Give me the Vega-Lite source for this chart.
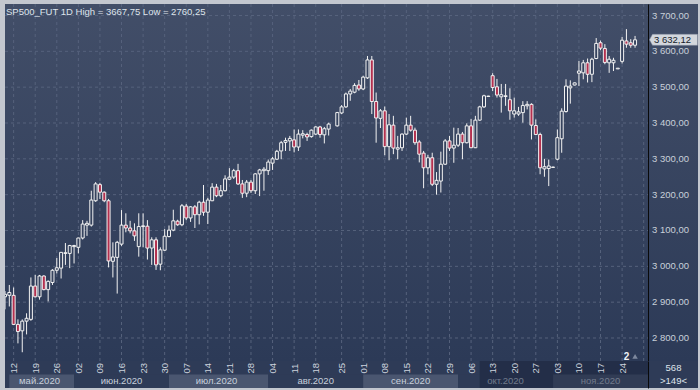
{
"$schema": "https://vega.github.io/schema/vega-lite/v6.json",
"padding": {"left": 4, "top": 3, "right": 3, "bottom": 3},
"background": "#c3c7cf",
"bounds": "flush",
"spacing": 0,
"config": {
  "view": {"stroke": null},
  "locale": {"number": {"decimal": ",", "thousands": " ", "grouping": [3], "currency": ["", ""]}},
  "text": {"font": "Liberation Sans"},
  "axis": {"labelFont": "Liberation Sans"}
},
"datasets": {
  "bars": [
{"d":"2020-05-08","o":2915,"h":2931,"l":2880,"c":2922},
{"d":"2020-05-11","o":2919,"h":2948,"l":2888,"c":2927},
{"d":"2020-05-12","o":2919,"h":2941,"l":2836,"c":2838},
{"d":"2020-05-13","o":2838,"h":2852,"l":2785,"c":2818},
{"d":"2020-05-14","o":2820,"h":2852,"l":2760.25,"c":2847},
{"d":"2020-05-15","o":2847,"h":2869,"l":2810,"c":2855},
{"d":"2020-05-18","o":2852,"h":2969,"l":2848,"c":2945},
{"d":"2020-05-19","o":2945,"h":2976,"l":2913,"c":2915},
{"d":"2020-05-20","o":2915,"h":2976,"l":2907,"c":2973},
{"d":"2020-05-21","o":2973,"h":2975,"l":2933,"c":2935},
{"d":"2020-05-22","o":2935,"h":2961,"l":2902,"c":2958},
{"d":"2020-05-25","o":2955,"h":2992,"l":2948,"c":2989},
{"d":"2020-05-26","o":2989,"h":3023,"l":2980,"c":2996},
{"d":"2020-05-27","o":2995,"h":3040,"l":2966,"c":3039},
{"d":"2020-05-28","o":3036,"h":3065,"l":3004,"c":3038},
{"d":"2020-05-29","o":3036,"h":3060,"l":2995,"c":3058},
{"d":"2020-06-01","o":3055,"h":3060,"l":3008,"c":3058},
{"d":"2020-06-02","o":3053,"h":3080,"l":3036,"c":3079},
{"d":"2020-06-03","o":3079,"h":3129,"l":3075,"c":3118},
{"d":"2020-06-04","o":3115,"h":3127,"l":3085,"c":3120},
{"d":"2020-06-05","o":3115,"h":3211,"l":3111,"c":3185},
{"d":"2020-06-08","o":3183,"h":3235,"l":3180,"c":3230},
{"d":"2020-06-09","o":3228,"h":3233,"l":3188,"c":3207},
{"d":"2020-06-10","o":3207,"h":3209,"l":3179,"c":3183},
{"d":"2020-06-11","o":3183,"h":3188,"l":2997,"c":3015},
{"d":"2020-06-12","o":3014,"h":3067,"l":2969,"c":3026},
{"d":"2020-06-15","o":3025,"h":3071,"l":2924,"c":3067},
{"d":"2020-06-16","o":3062,"h":3157,"l":3057,"c":3115},
{"d":"2020-06-17","o":3115,"h":3148,"l":3095,"c":3107},
{"d":"2020-06-18","o":3107,"h":3127,"l":3092,"c":3099},
{"d":"2020-06-19","o":3099,"h":3120,"l":3071,"c":3085},
{"d":"2020-06-22","o":3055,"h":3148,"l":3027,"c":3111},
{"d":"2020-06-23","o":3111,"h":3148,"l":3053,"c":3113},
{"d":"2020-06-24","o":3112,"h":3129,"l":3019,"c":3051},
{"d":"2020-06-25","o":3051,"h":3081,"l":3004,"c":3074},
{"d":"2020-06-26","o":3074,"h":3081,"l":2990,"c":3004},
{"d":"2020-06-29","o":3006,"h":3053,"l":2989,"c":3046},
{"d":"2020-06-30","o":3045,"h":3104,"l":3043,"c":3084},
{"d":"2020-07-01","o":3083,"h":3114,"l":3081,"c":3101},
{"d":"2020-07-02","o":3101,"h":3158,"l":3098,"c":3127},
{"d":"2020-07-03","o":3126,"h":3130,"l":3113,"c":3116},
{"d":"2020-07-06","o":3116,"h":3174,"l":3112,"c":3169},
{"d":"2020-07-07","o":3168,"h":3174,"l":3129,"c":3135},
{"d":"2020-07-08","o":3135,"h":3168,"l":3124,"c":3166},
{"d":"2020-07-09","o":3166,"h":3171,"l":3107,"c":3144},
{"d":"2020-07-10","o":3144,"h":3183,"l":3117,"c":3179},
{"d":"2020-07-13","o":3179,"h":3227,"l":3141,"c":3151},
{"d":"2020-07-14","o":3151,"h":3191,"l":3118,"c":3185},
{"d":"2020-07-15","o":3183,"h":3232,"l":3182,"c":3221},
{"d":"2020-07-16","o":3221,"h":3230,"l":3193,"c":3197},
{"d":"2020-07-17","o":3197,"h":3227,"l":3193,"c":3211},
{"d":"2020-07-20","o":3211,"h":3254,"l":3209,"c":3244},
{"d":"2020-07-21","o":3243,"h":3274,"l":3241,"c":3249},
{"d":"2020-07-22","o":3249,"h":3272,"l":3244,"c":3267},
{"d":"2020-07-23","o":3267,"h":3286,"l":3227,"c":3230},
{"d":"2020-07-24","o":3230,"h":3241,"l":3191,"c":3204},
{"d":"2020-07-27","o":3204,"h":3241,"l":3193,"c":3235},
{"d":"2020-07-28","o":3235,"h":3241,"l":3205,"c":3211},
{"d":"2020-07-29","o":3211,"h":3260,"l":3202,"c":3258},
{"d":"2020-07-30","o":3258,"h":3272,"l":3196,"c":3269},
{"d":"2020-07-31","o":3267,"h":3277,"l":3211,"c":3271},
{"d":"2020-08-03","o":3267,"h":3298,"l":3255,"c":3291},
{"d":"2020-08-04","o":3288,"h":3305,"l":3269,"c":3300},
{"d":"2020-08-05","o":3299,"h":3325,"l":3297,"c":3321},
{"d":"2020-08-06","o":3322,"h":3350,"l":3299,"c":3345},
{"d":"2020-08-07","o":3346,"h":3359,"l":3322,"c":3351},
{"d":"2020-08-10","o":3350,"h":3364,"l":3322,"c":3357},
{"d":"2020-08-11","o":3353,"h":3382,"l":3318,"c":3333},
{"d":"2020-08-12","o":3333,"h":3382,"l":3322,"c":3369},
{"d":"2020-08-13","o":3366,"h":3380,"l":3357,"c":3370},
{"d":"2020-08-14","o":3368,"h":3373,"l":3350,"c":3361},
{"d":"2020-08-17","o":3362,"h":3382,"l":3359,"c":3380},
{"d":"2020-08-18","o":3369,"h":3391,"l":3366,"c":3389},
{"d":"2020-08-19","o":3389,"h":3392,"l":3359,"c":3368},
{"d":"2020-08-20","o":3367,"h":3389,"l":3343,"c":3384},
{"d":"2020-08-21","o":3383,"h":3401,"l":3365,"c":3397},
{"d":"2020-08-24","o":3392,"h":3431,"l":3390,"c":3429},
{"d":"2020-08-25","o":3428,"h":3450,"l":3425,"c":3445},
{"d":"2020-08-26","o":3445,"h":3485,"l":3442,"c":3481},
{"d":"2020-08-27","o":3481,"h":3495,"l":3462,"c":3489},
{"d":"2020-08-28","o":3486,"h":3511,"l":3483,"c":3505},
{"d":"2020-08-31","o":3506,"h":3520,"l":3490,"c":3495},
{"d":"2020-09-01","o":3495,"h":3532,"l":3492,"c":3528},
{"d":"2020-09-02","o":3526,"h":3587,"l":3523,"c":3576},
{"d":"2020-09-03","o":3576,"h":3587,"l":3425,"c":3460},
{"d":"2020-09-04","o":3460,"h":3485,"l":3345,"c":3414},
{"d":"2020-09-07","o":3413,"h":3439,"l":3386,"c":3434},
{"d":"2020-09-08","o":3434,"h":3446,"l":3310,"c":3334},
{"d":"2020-09-09","o":3334,"h":3425,"l":3296,"c":3395},
{"d":"2020-09-10","o":3394,"h":3420,"l":3313,"c":3330},
{"d":"2020-09-11","o":3327,"h":3364,"l":3299,"c":3331},
{"d":"2020-09-14","o":3331,"h":3371,"l":3322,"c":3369},
{"d":"2020-09-15","o":3369,"h":3415,"l":3366,"c":3394},
{"d":"2020-09-16","o":3394,"h":3420,"l":3376,"c":3380},
{"d":"2020-09-17","o":3380,"h":3387,"l":3339,"c":3345},
{"d":"2020-09-18","o":3347,"h":3352,"l":3290,"c":3313},
{"d":"2020-09-21","o":3316,"h":3322,"l":3218,"c":3275},
{"d":"2020-09-22","o":3275,"h":3311,"l":3257,"c":3303},
{"d":"2020-09-23","o":3303,"h":3317,"l":3224,"c":3229},
{"d":"2020-09-24","o":3229,"h":3263,"l":3200,"c":3240},
{"d":"2020-09-25","o":3238,"h":3320,"l":3206,"c":3285},
{"d":"2020-09-28","o":3285,"h":3355,"l":3283,"c":3350},
{"d":"2020-09-29","o":3350,"h":3364,"l":3322,"c":3330},
{"d":"2020-09-30","o":3330,"h":3387,"l":3289,"c":3338},
{"d":"2020-10-01","o":3338,"h":3386,"l":3333,"c":3369},
{"d":"2020-10-02","o":3369,"h":3375,"l":3299,"c":3345},
{"d":"2020-10-05","o":3345,"h":3399,"l":3343,"c":3392},
{"d":"2020-10-06","o":3392,"h":3411,"l":3330,"c":3331},
{"d":"2020-10-07","o":3331,"h":3420,"l":3330,"c":3408},
{"d":"2020-10-08","o":3408,"h":3448,"l":3406,"c":3445},
{"d":"2020-10-09","o":3445,"h":3479,"l":3442,"c":3476},
{"d":"2020-10-12","o":3474,"h":3476,"l":3473,"c":3475},
{"d":"2020-10-13","o":3532,"h":3539,"l":3489,"c":3499},
{"d":"2020-10-14","o":3501,"h":3523,"l":3471,"c":3478},
{"d":"2020-10-15","o":3473,"h":3509,"l":3429,"c":3479},
{"d":"2020-10-16","o":3474,"h":3509,"l":3448,"c":3476},
{"d":"2020-10-19","o":3465,"h":3497,"l":3409,"c":3434},
{"d":"2020-10-20","o":3425,"h":3471,"l":3415,"c":3434},
{"d":"2020-10-21","o":3425,"h":3445,"l":3420,"c":3431},
{"d":"2020-10-22","o":3429,"h":3461,"l":3401,"c":3449},
{"d":"2020-10-23","o":3448,"h":3461,"l":3438,"c":3452},
{"d":"2020-10-26","o":3452,"h":3455,"l":3354,"c":3394},
{"d":"2020-10-27","o":3393,"h":3410,"l":3366,"c":3368},
{"d":"2020-10-28","o":3368,"h":3373,"l":3257,"c":3275},
{"d":"2020-10-29","o":3272,"h":3300,"l":3250,"c":3278},
{"d":"2020-10-30","o":3273,"h":3298,"l":3224,"c":3280},
{"d":"2020-11-02","o":3276,"h":3278,"l":3275,"c":3277},
{"d":"2020-11-03","o":3299,"h":3382,"l":3296,"c":3359},
{"d":"2020-11-04","o":3356,"h":3441,"l":3317,"c":3433},
{"d":"2020-11-05","o":3432,"h":3522,"l":3429,"c":3503},
{"d":"2020-11-06","o":3498,"h":3519,"l":3454,"c":3503},
{"d":"2020-11-09","o":3506,"h":3513,"l":3505,"c":3512},
{"d":"2020-11-10","o":3539,"h":3573,"l":3503,"c":3545},
{"d":"2020-11-11","o":3540,"h":3576,"l":3522,"c":3568},
{"d":"2020-11-12","o":3568,"h":3580,"l":3513,"c":3536},
{"d":"2020-11-13","o":3536,"h":3582,"l":3514,"c":3578},
{"d":"2020-11-16","o":3580,"h":3637,"l":3578,"c":3622},
{"d":"2020-11-17","o":3624,"h":3630,"l":3603,"c":3609},
{"d":"2020-11-18","o":3608,"h":3620,"l":3564,"c":3569},
{"d":"2020-11-19","o":3568,"h":3587,"l":3540,"c":3578},
{"d":"2020-11-20","o":3568,"h":3582,"l":3545,"c":3575},
{"d":"2020-11-23","o":3551,"h":3553,"l":3551,"c":3553},
{"d":"2020-11-24","o":3572,"h":3640,"l":3566,"c":3631},
{"d":"2020-11-25","o":3629,"h":3662,"l":3610,"c":3620},
{"d":"2020-11-26","o":3624,"h":3634,"l":3610,"c":3617},
{"d":"2020-11-27","o":3617,"h":3643,"l":3610,"c":3632.12}
  ],
  "weeks": [
{"t":"2020-05-12"},{"t":"2020-05-19"},{"t":"2020-05-26"},{"t":"2020-06-02"},{"t":"2020-06-09"},{"t":"2020-06-16"},{"t":"2020-06-23"},{"t":"2020-06-30"},{"t":"2020-07-07"},{"t":"2020-07-14"},{"t":"2020-07-21"},{"t":"2020-07-28"},{"t":"2020-08-04"},{"t":"2020-08-11"},{"t":"2020-08-18"},{"t":"2020-08-25"},{"t":"2020-09-01"},{"t":"2020-09-08"},{"t":"2020-09-15"},{"t":"2020-09-22"},{"t":"2020-09-29"},{"t":"2020-10-06"},{"t":"2020-10-13"},{"t":"2020-10-20"},{"t":"2020-10-27"},{"t":"2020-11-03"},{"t":"2020-11-10"},{"t":"2020-11-17"},{"t":"2020-11-24"},{"t":"2020-12-01"}
  ],
  "levels": [{"lv":2800},{"lv":2900},{"lv":3000},{"lv":3100},{"lv":3200},{"lv":3300},{"lv":3400},{"lv":3500},{"lv":3600},{"lv":3700}],
  "months": [
{"m":"май.2020","s":"2020-05-11","e":"2020-06-01","mid":"2020-05-20"},
{"m":"июн.2020","s":"2020-06-01","e":"2020-07-01","mid":"2020-06-16"},
{"m":"июл.2020","s":"2020-07-01","e":"2020-08-03","mid":"2020-07-16"},
{"m":"авг.2020","s":"2020-08-03","e":"2020-09-01","mid":"2020-08-18"},
{"m":"сен.2020","s":"2020-09-01","e":"2020-10-01","mid":"2020-09-16"},
{"m":"окт.2020","s":"2020-10-01","e":"2020-11-02","mid":"2020-10-16"},
{"m":"ноя.2020","s":"2020-11-02","e":"2020-12-02","mid":"2020-11-17"}
  ]
},
"vconcat": [
{
  "width": 693, "height": 357,
  "layer": [
    {"data": {"values": [{}]}, "mark": {"type": "rect", "color": {"gradient": "linear", "x1": 0, "y1": 0, "x2": 0, "y2": 1, "stops": [{"offset": 0, "color": "#424e68"}, {"offset": 1, "color": "#2c3a57"}]}}, "encoding": {}},
    {"data": {"name": "weeks"}, "mark": {"type": "rule", "color": "#56627c", "strokeDash": [3, 3], "strokeWidth": 1},
     "encoding": {"x": {"field": "t", "type": "ordinal"}}},
    {"data": {"name": "levels"}, "mark": {"type": "rule", "color": "#56627c", "strokeDash": [3, 3], "strokeWidth": 1},
     "encoding": {"y": {"field": "lv", "type": "quantitative"}, "x": {"datum": "2020-05-08", "type": "ordinal"}, "x2": {"datum": "2020-12-02"}}},
    {"data": {"name": "levels"}, "mark": {"type": "text", "align": "left", "baseline": "middle", "dx": 4, "fontSize": 9.5, "color": "#c9d0da"},
     "encoding": {"y": {"field": "lv", "type": "quantitative"}, "x": {"datum": "2020-12-02", "type": "ordinal"}, "text": {"field": "lv", "type": "quantitative", "format": ",.2f"}}},
    {"data": {"name": "bars"}, "mark": {"type": "rule", "color": "#f2f2f2", "strokeWidth": 1, "clip": true},
     "encoding": {
       "x": {"field": "d", "type": "ordinal",
         "scale": {"type": "point", "padding": 0, "range": [0, 643], "domain": ["2020-05-08","2020-05-11","2020-05-12","2020-05-13","2020-05-14","2020-05-15","2020-05-18","2020-05-19","2020-05-20","2020-05-21","2020-05-22","2020-05-25","2020-05-26","2020-05-27","2020-05-28","2020-05-29","2020-06-01","2020-06-02","2020-06-03","2020-06-04","2020-06-05","2020-06-08","2020-06-09","2020-06-10","2020-06-11","2020-06-12","2020-06-15","2020-06-16","2020-06-17","2020-06-18","2020-06-19","2020-06-22","2020-06-23","2020-06-24","2020-06-25","2020-06-26","2020-06-29","2020-06-30","2020-07-01","2020-07-02","2020-07-03","2020-07-06","2020-07-07","2020-07-08","2020-07-09","2020-07-10","2020-07-13","2020-07-14","2020-07-15","2020-07-16","2020-07-17","2020-07-20","2020-07-21","2020-07-22","2020-07-23","2020-07-24","2020-07-27","2020-07-28","2020-07-29","2020-07-30","2020-07-31","2020-08-03","2020-08-04","2020-08-05","2020-08-06","2020-08-07","2020-08-10","2020-08-11","2020-08-12","2020-08-13","2020-08-14","2020-08-17","2020-08-18","2020-08-19","2020-08-20","2020-08-21","2020-08-23","2020-08-24","2020-08-25","2020-08-26","2020-08-27","2020-08-28","2020-08-31","2020-09-01","2020-09-02","2020-09-03","2020-09-04","2020-09-07","2020-09-08","2020-09-09","2020-09-10","2020-09-11","2020-09-14","2020-09-15","2020-09-16","2020-09-17","2020-09-18","2020-09-21","2020-09-22","2020-09-23","2020-09-24","2020-09-25","2020-09-28","2020-09-29","2020-09-30","2020-10-01","2020-10-02","2020-10-05","2020-10-06","2020-10-07","2020-10-08","2020-10-09","2020-10-12","2020-10-13","2020-10-14","2020-10-15","2020-10-16","2020-10-19","2020-10-20","2020-10-21","2020-10-22","2020-10-23","2020-10-26","2020-10-27","2020-10-28","2020-10-29","2020-10-30","2020-11-02","2020-11-03","2020-11-04","2020-11-05","2020-11-06","2020-11-09","2020-11-10","2020-11-11","2020-11-12","2020-11-13","2020-11-16","2020-11-17","2020-11-18","2020-11-19","2020-11-20","2020-11-23","2020-11-24","2020-11-25","2020-11-26","2020-11-27","2020-11-30","2020-12-01","2020-12-02"]},
         "axis": {"orient": "bottom", "labels": false, "ticks": false, "grid": false, "domain": true, "domainColor": "#0a0a0a", "domainWidth": 1, "zindex": 1, "title": null}},
       "y": {"field": "h", "type": "quantitative",
         "scale": {"domain": [2735.8, 3732.1], "nice": false, "zero": false},
         "axis": {"orient": "right", "offset": -50, "labels": false, "grid": false, "ticks": false, "domainColor": "#0a0a0a", "zindex": 1, "title": null}},
       "y2": {"field": "l"}
     }},
    {"data": {"name": "bars"}, "mark": {"type": "bar", "width": 3, "stroke": "#f2f2f2", "strokeWidth": 1, "clip": true},
     "encoding": {
       "x": {"field": "d", "type": "ordinal"},
       "y": {"field": "o", "type": "quantitative"},
       "y2": {"field": "c"},
       "fill": {"condition": {"test": "datum.c < datum.o", "value": "#b3304f"}, "value": "#36435e"}
     }},
    {"data": {"values": [{"t": "SP500_FUT 1D High = 3667,75 Low = 2760,25"}]}, "mark": {"type": "text", "align": "left", "baseline": "top", "dx": 1, "dy": 3, "fontSize": 9.5, "color": "#dfe4ec"},
     "encoding": {"x": {"datum": "2020-05-08", "type": "ordinal"}, "y": {"datum": 3732.1, "type": "quantitative"}, "text": {"field": "t"}}},
    {"data": {"values": [{"p": 3632.12}]}, "mark": {"type": "point", "filled": true, "shape": "M0.15,0L0.45,-0.55L4.95,-0.55L4.95,0.55L0.45,0.55Z", "size": 400, "fill": "#d3d7dd", "opacity": 1, "stroke": "#8b93a3", "strokeWidth": 0.5},
     "encoding": {"x": {"datum": "2020-12-02", "type": "ordinal"}, "y": {"field": "p", "type": "quantitative"}}},
    {"data": {"values": [{"p": 3632.12}]}, "mark": {"type": "text", "align": "left", "baseline": "middle", "dx": 6, "fontSize": 9.5, "color": "#141c2a"},
     "encoding": {"x": {"datum": "2020-12-02", "type": "ordinal"}, "y": {"field": "p", "type": "quantitative"}, "text": {"field": "p", "type": "quantitative", "format": ",.2f"}}},
    {"data": {"values": [{"d": "2020-11-25", "p": 2747, "t": "2"}]}, "mark": {"type": "text", "align": "center", "baseline": "middle", "fontSize": 10, "fontWeight": "bold", "color": "#f0f2f6"},
     "encoding": {"x": {"field": "d", "type": "ordinal"}, "y": {"field": "p", "type": "quantitative"}, "text": {"field": "t"}}},
    {"data": {"values": [{"d": "2020-11-27", "p": 2749}]}, "mark": {"type": "point", "shape": "triangle-up", "filled": true, "size": 30, "color": "#7d889d", "opacity": 1},
     "encoding": {"x": {"field": "d", "type": "ordinal"}, "y": {"field": "p", "type": "quantitative"}}}
  ]
},
{
  "width": 693, "height": 27,
  "view": {"fill": "#2e3b57", "stroke": null},
  "layer": [
    {"data": {"name": "months"}, "mark": {"type": "rect"},
     "encoding": {
       "x": {"field": "s", "type": "ordinal",
         "scale": {"type": "point", "padding": 0, "range": [0, 643], "domain": ["2020-05-08","2020-05-11","2020-05-12","2020-05-13","2020-05-14","2020-05-15","2020-05-18","2020-05-19","2020-05-20","2020-05-21","2020-05-22","2020-05-25","2020-05-26","2020-05-27","2020-05-28","2020-05-29","2020-06-01","2020-06-02","2020-06-03","2020-06-04","2020-06-05","2020-06-08","2020-06-09","2020-06-10","2020-06-11","2020-06-12","2020-06-15","2020-06-16","2020-06-17","2020-06-18","2020-06-19","2020-06-22","2020-06-23","2020-06-24","2020-06-25","2020-06-26","2020-06-29","2020-06-30","2020-07-01","2020-07-02","2020-07-03","2020-07-06","2020-07-07","2020-07-08","2020-07-09","2020-07-10","2020-07-13","2020-07-14","2020-07-15","2020-07-16","2020-07-17","2020-07-20","2020-07-21","2020-07-22","2020-07-23","2020-07-24","2020-07-27","2020-07-28","2020-07-29","2020-07-30","2020-07-31","2020-08-03","2020-08-04","2020-08-05","2020-08-06","2020-08-07","2020-08-10","2020-08-11","2020-08-12","2020-08-13","2020-08-14","2020-08-17","2020-08-18","2020-08-19","2020-08-20","2020-08-21","2020-08-23","2020-08-24","2020-08-25","2020-08-26","2020-08-27","2020-08-28","2020-08-31","2020-09-01","2020-09-02","2020-09-03","2020-09-04","2020-09-07","2020-09-08","2020-09-09","2020-09-10","2020-09-11","2020-09-14","2020-09-15","2020-09-16","2020-09-17","2020-09-18","2020-09-21","2020-09-22","2020-09-23","2020-09-24","2020-09-25","2020-09-28","2020-09-29","2020-09-30","2020-10-01","2020-10-02","2020-10-05","2020-10-06","2020-10-07","2020-10-08","2020-10-09","2020-10-12","2020-10-13","2020-10-14","2020-10-15","2020-10-16","2020-10-19","2020-10-20","2020-10-21","2020-10-22","2020-10-23","2020-10-26","2020-10-27","2020-10-28","2020-10-29","2020-10-30","2020-11-02","2020-11-03","2020-11-04","2020-11-05","2020-11-06","2020-11-09","2020-11-10","2020-11-11","2020-11-12","2020-11-13","2020-11-16","2020-11-17","2020-11-18","2020-11-19","2020-11-20","2020-11-23","2020-11-24","2020-11-25","2020-11-26","2020-11-27","2020-11-30","2020-12-01","2020-12-02"]},
         "axis": {"orient": "top", "values": ["2020-05-12","2020-05-19","2020-05-26","2020-06-02","2020-06-09","2020-06-16","2020-06-23","2020-06-30","2020-07-07","2020-07-14","2020-07-21","2020-07-28","2020-08-04","2020-08-11","2020-08-18","2020-08-25","2020-09-01","2020-09-08","2020-09-15","2020-09-22","2020-09-29","2020-10-06","2020-10-13","2020-10-20","2020-10-27","2020-11-03","2020-11-10","2020-11-17","2020-11-24"], "labelExpr": "slice(datum.value, 8)", "ticks": false, "domain": false, "grid": false, "labelPadding": -12, "labelBaseline": "middle", "labelColor": "#cdd4de", "labelFontSize": 9.5, "labelOverlap": false, "labelBound": false, "labelFlush": false, "title": null}},
       "x2": {"field": "e"},
       "y": {"datum": ">149<", "type": "ordinal",
         "scale": {"type": "band", "domain": ["568", ">149<"], "paddingInner": 0, "paddingOuter": 0},
         "axis": {"orient": "right", "offset": -50, "ticks": false, "domain": true, "domainColor": "#0a0a0a", "labelAlign": "center", "labelPadding": 25, "labelColor": "#dfe4ec", "labelFontSize": 9.5, "zindex": 1, "title": null}},
       "fill": {"condition": {"test": "indexof(['май.2020','июл.2020','сен.2020','ноя.2020'], datum.m) >= 0", "value": "#4a5670"}, "value": "#2e3b57"}
     }},
    {"data": {"name": "months"}, "mark": {"type": "text", "align": "center", "baseline": "middle", "fontSize": 9.5, "color": "#c8d0dc"},
     "encoding": {"x": {"field": "mid", "type": "ordinal"}, "y": {"datum": ">149<", "type": "ordinal"}, "text": {"field": "m"}}},
    {"data": {"values": [{"a": "2020-10-08", "b": "2020-12-02"}]}, "mark": {"type": "rect", "fill": "#18223a", "opacity": 0.5},
     "encoding": {"x": {"field": "a", "type": "ordinal"}, "x2": {"field": "b"}}}
  ]
}
]
}
